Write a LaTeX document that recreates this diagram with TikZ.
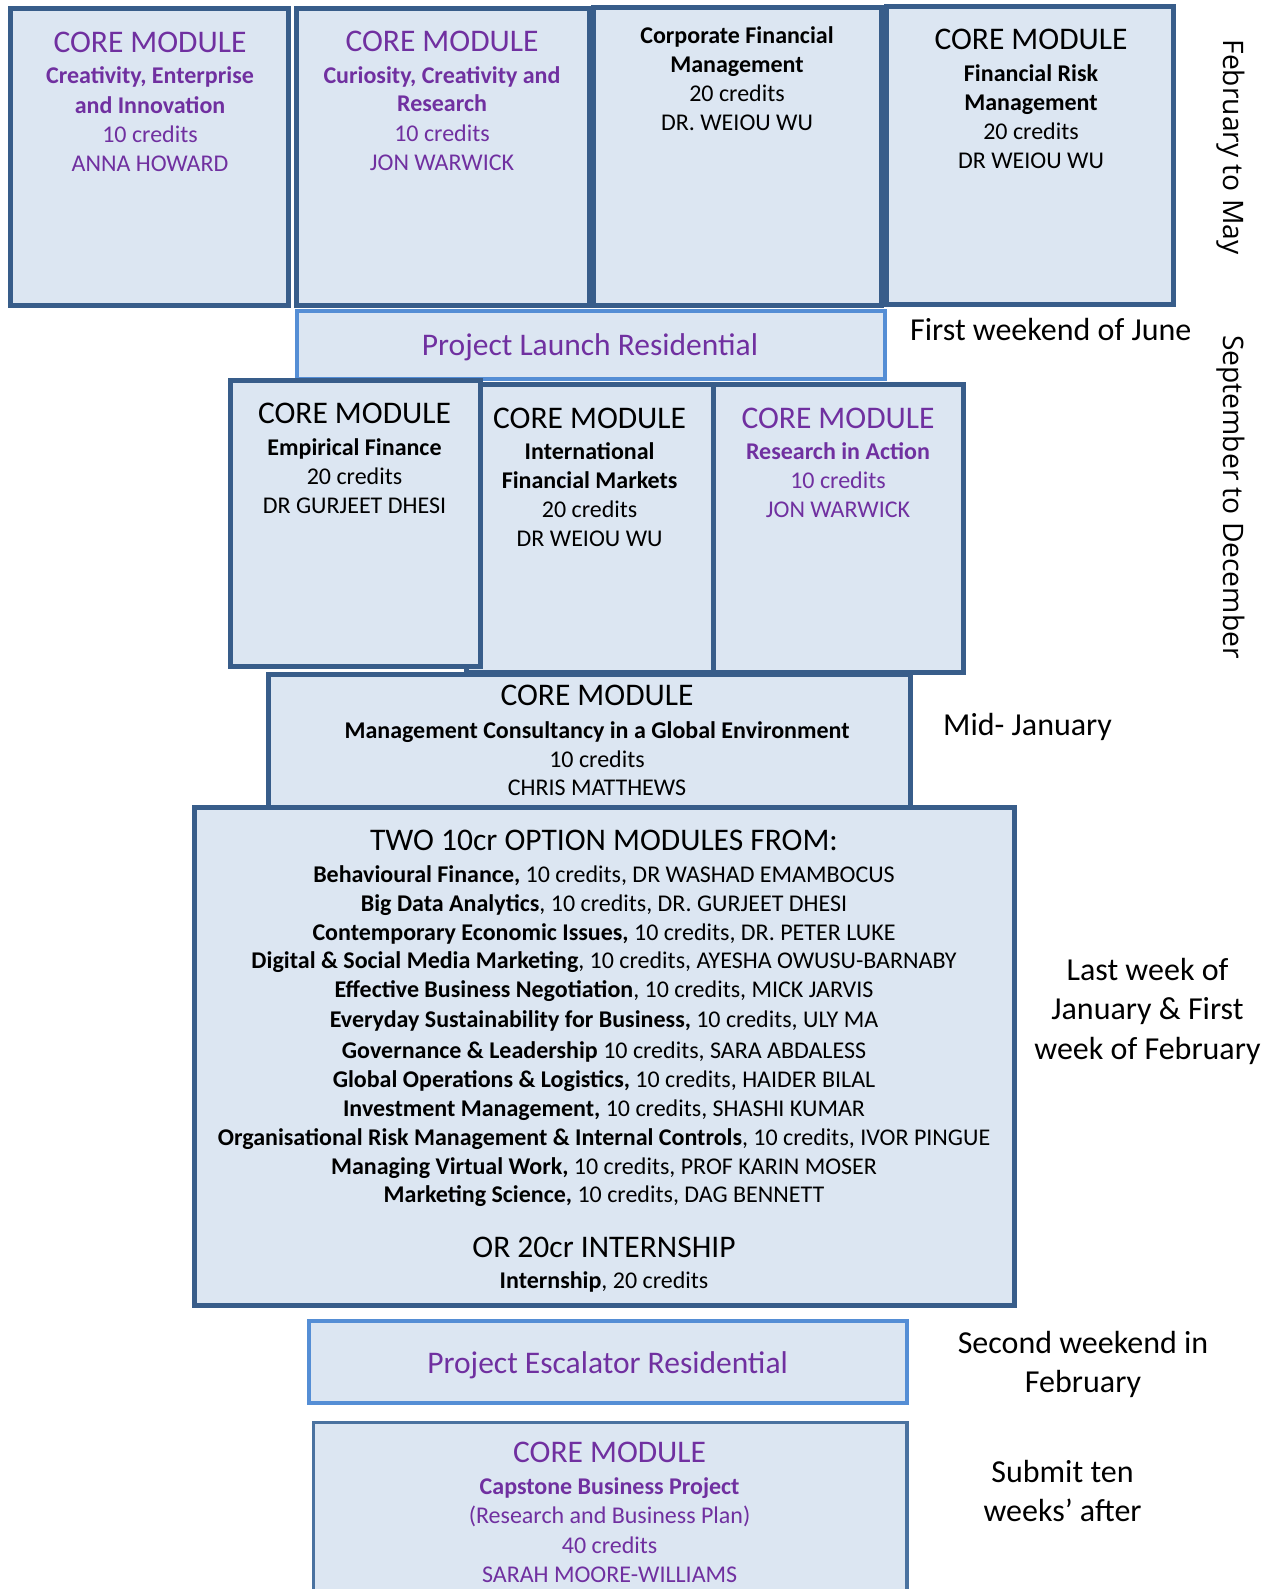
\documentclass[tikz,border=0pt]{standalone}
\usepackage{fontspec}
\setmainfont{Carlito}
\newfontfamily\sidefont{Open Sans}
\definecolor{boxfill}{HTML}{DCE6F2}
\definecolor{dkblue}{HTML}{385D8A}
\definecolor{ltblue}{HTML}{558ED5}
\definecolor{capblue}{HTML}{4A72A0}
\definecolor{purp}{HTML}{7030A0}
\tikzset{
  box/.style={draw=dkblue, fill=boxfill, line width=5pt, inner sep=0pt},
  resbox/.style={draw=ltblue, fill=boxfill, line width=4pt, inner sep=0pt},
  ttl/.style={font=\fontsize{31.5}{38}\selectfont, anchor=base, inner sep=0pt},
  bd/.style={font=\fontsize{24}{29}\selectfont, anchor=base, inner sep=0pt},
  bb/.style={font=\fontsize{24}{29}\selectfont\bfseries, anchor=base, inner sep=0pt},
  side/.style={font=\fontsize{32}{38}\selectfont, anchor=base, inner sep=0pt},
  rot/.style={font=\sidefont\fontsize{28.2}{34}\selectfont, rotate=-90, anchor=base, inner sep=0pt},
  pur/.style={text=purp}
}
\begin{document}
\begin{tikzpicture}[x=1pt,y=-1pt]
\useasboundingbox (0,0) rectangle (1277,1589);
% ---------- top row ----------
\draw[box] (10,9) rectangle (288,305.5);
\node[inner sep=0pt] (b1) at (149,157) {};
\draw[box] (296,8.5) rectangle (589,305);
\node[inner sep=0pt] (b2) at (442,157) {};
\draw[box] (593.5,8) rectangle (881,305);
\node[inner sep=0pt] (b3) at (737,157) {};
\draw[box] (886.5,6.5) rectangle (1173.5,304.5);
\node[inner sep=0pt] (b4) at (1030,157) {};

\node[ttl,pur] (b1t) at (150,52.5) {CORE MODULE};
\node[bb,pur] (b1a) at (150,83.2) {Creativity, Enterprise};
\node[bb,pur] (b1b) at (150,113.3) {and Innovation};
\node[bd,pur] (b1c) at (150,142.7) {10 credits};
\node[bd,pur] (b1d) at (150,171.3) {ANNA HOWARD};

\node[ttl,pur] (b2t) at (442,52) {CORE MODULE};
\node[bb,pur] (b2a) at (442,83.2) {Curiosity, Creativity and};
\node[bb,pur] (b2b) at (442,111.5) {Research};
\node[bd,pur] (b2c) at (442,142) {10 credits};
\node[bd,pur] (b2d) at (442,170.7) {JON WARWICK};

\node[bb] (b3a) at (737,43.8) {Corporate Financial};
\node[bb] (b3b) at (737,72.5) {Management};
\node[bd] (b3c) at (737,101.3) {20 credits};
\node[bd] (b3d) at (737,131) {DR. WEIOU WU};

\node[ttl] (b4t) at (1031,49.5) {CORE MODULE};
\node[bb] (b4a) at (1031,81.2) {Financial Risk};
\node[bb] (b4b) at (1031,110.5) {Management};
\node[bd] (b4c) at (1031,139.5) {20 credits};
\node[bd] (b4d) at (1031,168.8) {DR WEIOU WU};

\node[rot] (feb) at (1223,147) {February to May};

% ---------- project launch ----------
\draw[resbox] (297,310.5) rectangle (885,379);
\node[ttl,pur] (plr) at (590,355.5) {Project Launch Residential};
\node[side,anchor=base west] (june) at (910,340.5) {First weekend of June};

% ---------- row 2 ----------
\draw[box] (466,384.5) rectangle (713,672);
\draw[box] (713,384.5) rectangle (963,672);
\draw[box] (230.5,380) rectangle (480,666.5);
\node[ttl] (e1) at (354.5,423.8) {CORE MODULE};
\node[bb] (e2) at (354.5,455.5) {Empirical Finance};
\node[bd] (e3) at (354.5,484.5) {20 credits};
\node[bd] (e4) at (354.5,513.2) {DR GURJEET DHESI};

\node[ttl] (i1) at (589.6,428.2) {CORE MODULE};
\node[bb] (i2) at (589.6,459.5) {International};
\node[bb] (i3) at (589.6,488.2) {Financial Markets};
\node[bd] (i4) at (589.6,517.2) {20 credits};
\node[bd] (i5) at (589.6,546.2) {DR WEIOU WU};

\node[ttl,pur] (r1) at (838,428.2) {CORE MODULE};
\node[bb,pur] (r2) at (838,459.5) {Research in Action};
\node[bd,pur] (r3) at (838,488.2) {10 credits};
\node[bd,pur] (r4) at (838,517.2) {JON WARWICK};

\node[rot] (sep) at (1223,497) {September to December};

% ---------- management consultancy ----------
\draw[box] (268,674) rectangle (910,807);
\node[ttl] (m1) at (597,705.5) {CORE MODULE};
\node[bb] (m2) at (597,738.8) {Management Consultancy in a Global Environment};
\node[bd] (m3) at (597,767.2) {10 credits};
\node[bd] (m4) at (597,795.5) {CHRIS MATTHEWS};
\node[side,anchor=base west] (midjan) at (943,735.5) {Mid- January};

% ---------- options ----------
\draw[box] (194,807) rectangle (1014,1305.5);
\node[ttl] (o0) at (604,850) {TWO 10cr OPTION MODULES FROM:};
\node[bd] (o1) at (604,882.2) {\textbf{Behavioural Finance,} 10 credits, DR WASHAD EMAMBOCUS};
\node[bd] (o2) at (604,911.2) {\textbf{Big Data Analytics}, 10 credits, DR. GURJEET DHESI};
\node[bd] (o3) at (604,940) {\textbf{Contemporary Economic Issues,} 10 credits, DR. PETER LUKE};
\node[bd] (o4) at (604,968.9) {\textbf{Digital \& Social Media Marketing}, 10 credits, AYESHA OWUSU-BARNABY};
\node[bd] (o5) at (604,997.8) {\textbf{Effective Business Negotiation}, 10 credits, MICK JARVIS};
\node[bd] (o6) at (604,1027) {\textbf{Everyday Sustainability for Business,} 10 credits, ULY MA};
\node[bd] (o7) at (604,1058) {\textbf{Governance \& Leadership} 10 credits, SARA ABDALESS};
\node[bd] (o8) at (604,1087.2) {\textbf{Global Operations \& Logistics,} 10 credits, HAIDER BILAL};
\node[bd] (o9) at (604,1116.2) {\textbf{Investment Management,} 10 credits, SHASHI KUMAR};
\node[bd] (o10) at (604,1145.3) {\textbf{Organisational Risk Management \& Internal Controls}, 10 credits, IVOR PINGUE};
\node[bd] (o11) at (604,1174) {\textbf{Managing Virtual Work,} 10 credits, PROF KARIN MOSER};
\node[bd] (o12) at (604,1202.9) {\textbf{Marketing Science,} 10 credits, DAG BENNETT};
\node[ttl] (o13) at (604,1257.2) {OR 20cr INTERNSHIP};
\node[bd] (o14) at (604,1288.8) {\textbf{Internship}, 20 credits};

\node[side] (lw1) at (1147.5,980) {Last week of};
\node[side] (lw2) at (1147.5,1019.5) {January \& First};
\node[side] (lw3) at (1147.5,1059) {week of February};

% ---------- escalator ----------
\draw[resbox] (308.5,1320.5) rectangle (906.5,1402.5);
\node[ttl,pur] (esc) at (607.6,1373.2) {Project Escalator Residential};
\node[side] (sw1) at (1083,1353) {Second weekend in};
\node[side] (sw2) at (1083,1392) {February};

% ---------- capstone ----------
\draw[draw=capblue, fill=boxfill, line width=3.5pt] (313.5,1422.3) rectangle (907,1600);
\node[ttl,pur] (c1) at (609.6,1462.8) {CORE MODULE};
\node[bb,pur] (c2) at (609.6,1494.8) {Capstone Business Project};
\node[bd,pur] (c3) at (609.6,1523.8) {(Research and Business Plan)};
\node[bd,pur] (c4) at (609.6,1553.8) {40 credits};
\node[bd,pur] (c5) at (609.6,1582.2) {SARAH MOORE-WILLIAMS};
\node[side] (st1) at (1062.5,1482) {Submit ten};
\node[side] (st2) at (1062.5,1521) {weeks’ after};
\end{tikzpicture}
\end{document}
